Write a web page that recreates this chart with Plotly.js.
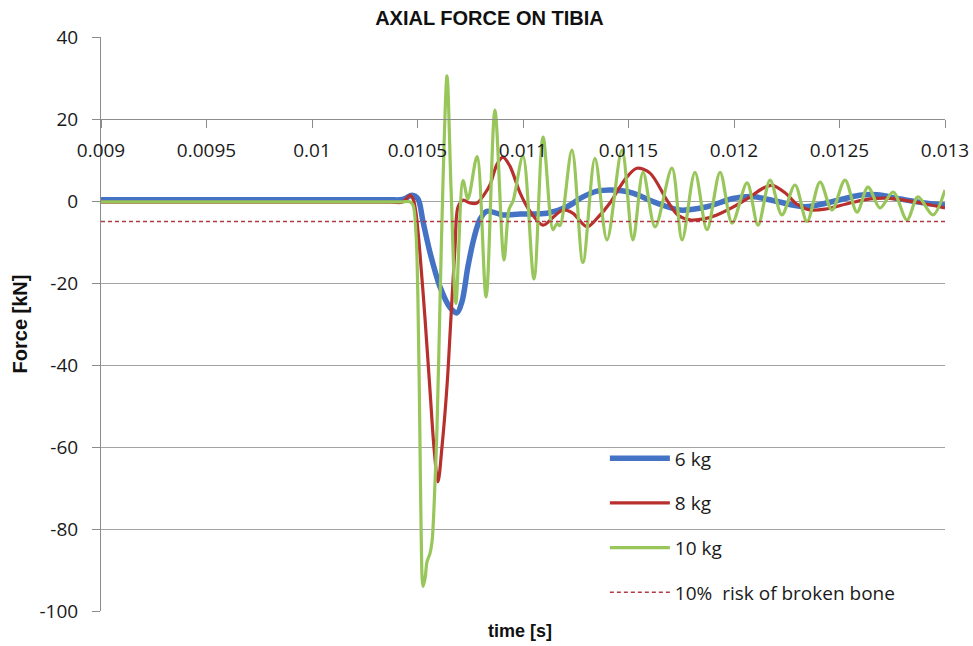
<!DOCTYPE html>
<html><head><meta charset="utf-8">
<script src="https://cdn.plot.ly/plotly-3.0.1.min.js"></script>
<style>html,body{margin:0;padding:0;background:#fff}#chart{width:973px;height:646px}</style>
</head><body><div id="chart"></div>
<script>
// Data (time in s, force in kN)
const time6 = [0.009, 0.0097, 0.01037, 0.010417, 0.010441, 0.010474, 0.010502, 0.010526, 0.010559, 0.010607, 0.010654, 0.010687, 0.010711, 0.010739, 0.010768, 0.010796, 0.010829, 0.010905, 0.010986, 0.011114, 0.011209, 0.011284, 0.011351, 0.011412, 0.011469, 0.011521, 0.011635, 0.011744, 0.011872, 0.011995, 0.012085, 0.012194, 0.012336, 0.012455, 0.012597, 0.012678, 0.012787, 0.012905, 0.013];
const force6 = [0.3, 0.3, 0.3, 0.3, 0.6, 1.4, 0.5, -5, -12.5, -21, -26, -27.3, -24.5, -16, -9, -4.5, -2.5, -3.4, -3.2, -3, -1.4, 1, 2.4, 2.7, 2.5, 1.9, -0.5, -2.2, -1.4, 0.6, 1.1, 0, -1.4, -0.3, 1.4, 1.5, 0.5, -0.5, -1];

const time8 = [0.009, 0.0097, 0.01037, 0.010427, 0.010446, 0.010464, 0.010479, 0.010493, 0.010512, 0.010536, 0.010559, 0.010578, 0.010597, 0.010616, 0.010640, 0.010659, 0.010678, 0.010692, 0.010716, 0.010749, 0.010782, 0.010815, 0.010844, 0.010877, 0.010905, 0.010938, 0.010986, 0.011033, 0.011095, 0.011142, 0.011190, 0.011237, 0.011303, 0.011355, 0.011412, 0.011460, 0.011493, 0.011540, 0.011602, 0.011682, 0.011735, 0.011791, 0.011863, 0.011919, 0.011995, 0.012076, 0.012133, 0.012180, 0.012242, 0.012299, 0.012360, 0.012431, 0.012550, 0.012645, 0.012725, 0.012867, 0.013];
const force8 = [-0.3, -0.3, -0.3, -0.3, 0.5, 1.4, 0.5, -3, -13, -29, -46, -60, -68.5, -60, -45, -28, -11, -1.5, 0.2, -0.5, -0.5, 1.5, 4, 9, 10.7, 8.5, 2, -2.5, -5.9, -4, -2.2, -3, -6.3, -4, -0.5, 3.5, 5.9, 8, 6.8, 0.2, -3.5, -4.6, -4.3, -3.4, -1.5, 1, 3, 3.8, 2, -0.8, -2.2, -2, -0.5, 0.5, 0.7, -0.3, -1.7];

const time10 = [0.009, 0.0097, 0.01042, 0.010464, 0.010479, 0.010493, 0.010502, 0.010512, 0.010517, 0.010526, 0.010536, 0.010545, 0.010559, 0.010569, 0.010578, 0.010592, 0.010607, 0.010621, 0.010640, 0.010659, 0.010682, 0.010716, 0.010739, 0.010782, 0.010825, 0.010867, 0.010910, 0.010934, 0.010953, 0.011000, 0.011052, 0.011095, 0.011142, 0.011161, 0.011175, 0.011232, 0.011284, 0.011341, 0.011398, 0.011469, 0.011521, 0.011569, 0.011626, 0.011706, 0.011754, 0.011815, 0.011872, 0.011934, 0.011991, 0.012062, 0.012114, 0.012171, 0.012227, 0.012289, 0.012346, 0.012408, 0.012464, 0.012526, 0.012583, 0.012635, 0.012692, 0.012754, 0.012820, 0.012872, 0.012943, 0.013];
const force10 = [-0.2, -0.2, -0.2, -0.2, -1, -8, -24, -60, -80, -94, -92, -88, -86, -83, -75, -56, -24, 5, 30.5, 3, -25, 5, 0.5, 10.8, -23.4, 22.2, -14.4, -2, 0, 11, -19, 15.6, -7, -5.5, -6, 12.4, -15, 10.4, -9.5, 12.4, -9.5, 7, -6.3, 8, -9.5, 7, -7, 7, -5.4, 4.4, -5.9, 5.1, -3.4, 3.9, -5, 4.6, -2.2, 5.1, -2.7, 3.4, -1.7, 2.2, -4.6, 1, -3.4, 2.7];

const riskTime = [0.009, 0.013];
const riskForce = [-5, -5];

const seriesNames = ['6 kg', '8 kg', '10 kg', '10%\u00a0 risk of broken bone'];
const xTickVals = [0.009, 0.0095, 0.01, 0.0105, 0.011, 0.0115, 0.012, 0.0125, 0.013];
const xTickText = ['0.009', '0.0095', '0.01', '0.0105', '0.011', '0.0115', '0.012', '0.0125', '0.013'];
const yTickVals = [-100, -80, -60, -40, -20, 0, 20, 40];
const yTickText = ['-100', '-80', '-60', '-40', '-20', '0', '20', '40'];
const yRange = [-100, 40];
const xCrossAt = 20;

const tickFont = {family: 'Open Sans, sans-serif', size: 19, color: '#1a1a1a'};
const axisGray = '#8c8c8c';

const traces = [
  {x: time6, y: force6, name: seriesNames[0], legendgroup: 'a', mode: 'lines',
   line: {color: '#4472C4', width: 5.5, shape: 'spline', smoothing: 0.9}},
  {x: time8, y: force8, name: seriesNames[1], legendgroup: 'b', mode: 'lines',
   line: {color: '#B8302E', width: 3.2, shape: 'spline', smoothing: 0.9}},
  {x: time10, y: force10, name: seriesNames[2], legendgroup: 'c', mode: 'lines',
   line: {color: '#98C65B', width: 3.2, shape: 'spline', smoothing: 0.9}},
  {x: riskTime, y: riskForce, name: seriesNames[3], legendgroup: 'd', mode: 'lines',
   line: {color: '#B23A46', width: 1.4, dash: '4px,3px'}}
];

const layout = {
  width: 973, height: 646,
  margin: {l: 101, r: 28, t: 37, b: 35},
  paper_bgcolor: '#ffffff', plot_bgcolor: '#ffffff',
  title: {text: '<b>AXIAL FORCE ON TIBIA</b>', x: 0.503, xref: 'container', y: 0.972, yref: 'container', yanchor: 'middle',
          font: {family: 'Liberation Sans, Arial, sans-serif', size: 20, color: '#111'}},
  xaxis: {
    range: [0.009, 0.013], anchor: 'free',
    position: (xCrossAt - yRange[0]) / (yRange[1] - yRange[0]),
    showgrid: false, zeroline: false,
    showline: true, linecolor: axisGray, linewidth: 1,
    ticks: 'outside', ticklen: 8, tickcolor: axisGray, tickwidth: 1,
    tickvals: xTickVals, ticktext: xTickText, tickfont: tickFont,
    ticklabelstandoff: 6
  },
  yaxis: {
    range: yRange, tickvals: yTickVals, ticktext: yTickText,
    showgrid: true, gridcolor: '#a3a3a3', gridwidth: 1, zeroline: false,
    showline: true, linecolor: axisGray, linewidth: 1,
    ticks: 'outside', ticklen: 8, tickcolor: axisGray, tickwidth: 1,
    tickfont: tickFont, ticklabelstandoff: 10,
    title: {text: '<b>Force [kN]</b>', standoff: 6,
            font: {family: 'Liberation Sans, Arial, sans-serif', size: 20, color: '#111'}}
  },
  annotations: [{
    text: '<b>time [s]</b>', xref: 'paper', yref: 'paper', x: 0.497, y: -0.035,
    xanchor: 'center', yanchor: 'middle', showarrow: false,
    font: {family: 'Liberation Sans, Arial, sans-serif', size: 18, color: '#111'}
  }],
  showlegend: true,
  legend: {
    x: 0.597, y: 0.299, xanchor: 'left', yanchor: 'top',
    bgcolor: 'rgba(0,0,0,0)', borderwidth: 0,
    font: {family: 'Open Sans, sans-serif', size: 19, color: '#1a1a1a'},
    traceorder: 'grouped', tracegroupgap: 17, itemwidth: 60
  },
  hovermode: false
};

Plotly.newPlot('chart', traces, layout, {staticPlot: true, displayModeBar: false});
</script>
</body></html>
